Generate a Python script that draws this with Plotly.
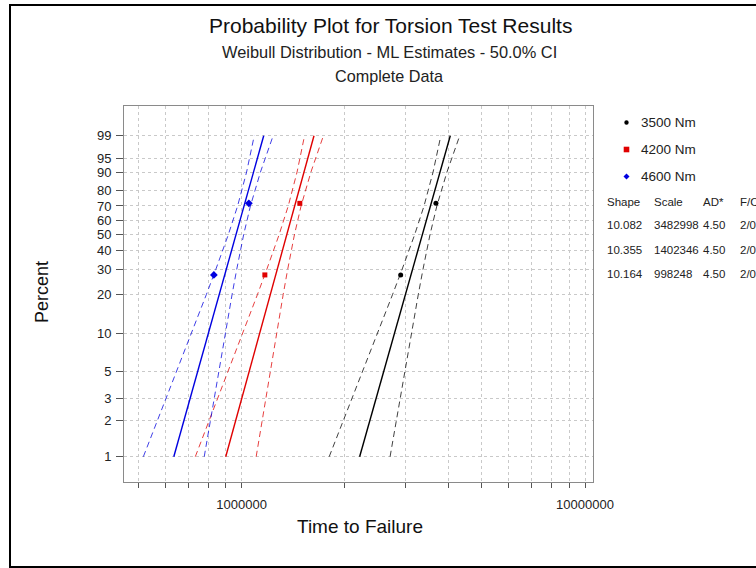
import math
import plotly.graph_objects as go

# ---------------- data ----------------
series_names = ["3500 Nm", "4200 Nm", "4600 Nm"]
series_colors = ["#000000", "#e00000", "#0000e0"]
series_symbols = ["circle", "square", "diamond"]

# observed failures (time, percent)
pts_time = {
    "3500 Nm": [2906000, 3681000],
    "4200 Nm": [1169000, 1478000],
    "4600 Nm": [830600, 1050200],
}
pts_pct = [27.6, 71.8]

# fitted line end points (percent 1 and 99)
fit_pct = [1, 99]
fit_time = {
    "3500 Nm": [2206900, 4052700],
    "4200 Nm": [899300, 1625200],
    "4600 Nm": [634860, 1160100],
}

# 50% confidence bounds
ci_pct = [1, 2, 5, 10, 20, 30, 50, 70, 90, 99]
ci_low = {
    "3500 Nm": [1799500, 1982200, 2254000, 2487900, 2754000, 2931200, 3190000, 3398400, 3611400, 3804000],
    "4200 Nm": [733300, 806250, 914600, 1007600, 1113200, 1183300, 1285600, 1367600, 1450900, 1525500],
    "4600 Nm": [517670, 569900, 647500, 714300, 790350, 840800, 914550, 973900, 1034400, 1088900],
}
ci_high = {
    "3500 Nm": [2706600, 2822300, 2985700, 3120400, 3271200, 3373200, 3536000, 3703600, 3963800, 4317700],
    "4200 Nm": [1102900, 1148000, 1211500, 1263700, 1322200, 1361800, 1425100, 1490400, 1592300, 1731400],
    "4600 Nm": [778600, 811490, 857800, 895950, 938680, 967690, 1013800, 1061300, 1135200, 1235900],
}

# table of estimates
tbl_header = ["Shape", "Scale", "AD*", "F/C"]
tbl_shape = ["10.082", "10.355", "10.164"]
tbl_scale = ["3482998", "1402346", "998248"]
tbl_ad = ["4.50", "4.50", "4.50"]
tbl_fc = ["2/0", "2/0", "2/0"]

# axis ticks
y_tick_pct = [1, 2, 3, 5, 10, 20, 30, 40, 50, 60, 70, 80, 90, 95, 99]
x_tick_vals = [500000, 600000, 700000, 800000, 900000, 1000000, 2000000, 3000000,
               4000000, 5000000, 6000000, 7000000, 8000000, 9000000, 10000000]
x_tick_labels = {1000000: "1000000", 10000000: "10000000"}


# Weibull probability scale
def wb(p):
    return math.log(-math.log(1 - p / 100.0))


# ---------------- layout geometry ----------------
W, H = 756, 568
PL, PR, PT, PB = 124, 593, 106, 482


def px(x):
    return (x - PL) / (PR - PL)


def py(y):
    return (PB - y) / (PB - PT)


fig = go.Figure()

for name, col, sym in zip(series_names, series_colors, series_symbols):
    fig.add_trace(go.Scatter(
        x=ci_low[name], y=[wb(p) for p in ci_pct], mode="lines",
        line=dict(color=col, width=1, dash="6px,4px"), opacity=0.75,
        showlegend=False, hoverinfo="skip"))
    fig.add_trace(go.Scatter(
        x=ci_high[name], y=[wb(p) for p in ci_pct], mode="lines",
        line=dict(color=col, width=1, dash="6px,4px"), opacity=0.75,
        showlegend=False, hoverinfo="skip"))
    fig.add_trace(go.Scatter(
        x=fit_time[name], y=[wb(p) for p in fit_pct], mode="lines",
        line=dict(color=col, width=1.4), showlegend=False))
    fig.add_trace(go.Scatter(
        x=pts_time[name], y=[wb(p) for p in pts_pct], mode="markers",
        marker=dict(color=col, symbol=sym, size=5 if sym != "diamond" else 6),
        name=name, showlegend=False))

grid = dict(showgrid=True, gridcolor="#c9c9c9", gridwidth=1, griddash="3px,3px",
            showline=True, linecolor="#8a8a8a", linewidth=1, mirror=True,
            zeroline=False, ticks="outside", tickcolor="#555555",
            tickfont=dict(family="Liberation Sans, Arial", size=13, color="#222222"))

fig.update_xaxes(type="log", range=[5.6577, 7.0233],
                 tickvals=x_tick_vals,
                 ticktext=[x_tick_labels.get(v, "") for v in x_tick_vals],
                 ticklen=5, ticklabelstandoff=5, **grid)
fig.update_yaxes(range=[-5.083, 2.094],
                 tickvals=[wb(p) for p in y_tick_pct],
                 ticktext=[str(p) for p in y_tick_pct],
                 ticklen=7, ticklabelstandoff=2, **grid)

font = "Liberation Sans, Arial"
ann = []


def txt(s, x, y, size, xanchor="center", color="#111111", angle=0):
    ann.append(dict(text=s, x=px(x), y=py(y), xref="paper", yref="paper",
                    xanchor=xanchor, yanchor="middle", showarrow=False,
                    textangle=angle, font=dict(family=font, size=size, color=color)))


# titles
txt("Probability Plot for Torsion Test Results", 390, 26, 21)
txt("Weibull Distribution - ML Estimates - 50.0% CI", 389, 52, 16.4, color="#222222")
txt("Complete Data", 389, 76, 16.2, color="#222222")
# axis titles
txt("Time to Failure", 360, 526, 19)
txt("Percent", 42, 292, 18, angle=-90)

# legend text
leg_y = [122.5, 149.5, 176.5]
for name, yy in zip(series_names, leg_y):
    txt(name, 639, yy, 13.5, xanchor="left", color="#222222")

# table
cols_x = [605, 652, 701, 738]
for h, cx in zip(tbl_header, cols_x):
    txt(h, cx, 202, 11.5, xanchor="left", color="#222222")
row_y = [225, 249.5, 274]
for i, ry in enumerate(row_y):
    for val, cx in zip([tbl_shape[i], tbl_scale[i], tbl_ad[i], tbl_fc[i]], cols_x):
        txt(val, cx, ry, 11.5, xanchor="left", color="#222222")

shapes = []
# legend markers
mx = px(626.5)
shapes.append(dict(type="circle", xref="paper", yref="paper", xsizemode="pixel", ysizemode="pixel",
                   xanchor=mx, yanchor=py(leg_y[0]), x0=-2.2, x1=2.2, y0=-2.2, y1=2.2,
                   fillcolor=series_colors[0], line=dict(width=0)))
shapes.append(dict(type="rect", xref="paper", yref="paper", xsizemode="pixel", ysizemode="pixel",
                   xanchor=mx, yanchor=py(leg_y[1]), x0=-2.8, x1=2.8, y0=-2.8, y1=2.8,
                   fillcolor=series_colors[1], line=dict(width=0)))
shapes.append(dict(type="path", xref="paper", yref="paper", xsizemode="pixel", ysizemode="pixel",
                   xanchor=mx, yanchor=py(leg_y[2]), path="M -3 0 L 0 3 L 3 0 L 0 -3 Z",
                   fillcolor=series_colors[2], line=dict(width=0)))
# outer frame
shapes.append(dict(type="rect", xref="paper", yref="paper",
                   x0=px(10), x1=px(770), y0=py(567), y1=py(5),
                   line=dict(color="#000000", width=2)))

fig.update_layout(width=W, height=H, margin=dict(l=PL, r=W - PR, t=PT, b=H - PB),
                  paper_bgcolor="white", plot_bgcolor="white",
                  annotations=ann, shapes=shapes, showlegend=False,
                  font=dict(family=font))

fig.write_html("out.html", config={"displayModeBar": False},
               post_script="document.body.style.margin='0px';document.body.style.overflow='hidden';")
